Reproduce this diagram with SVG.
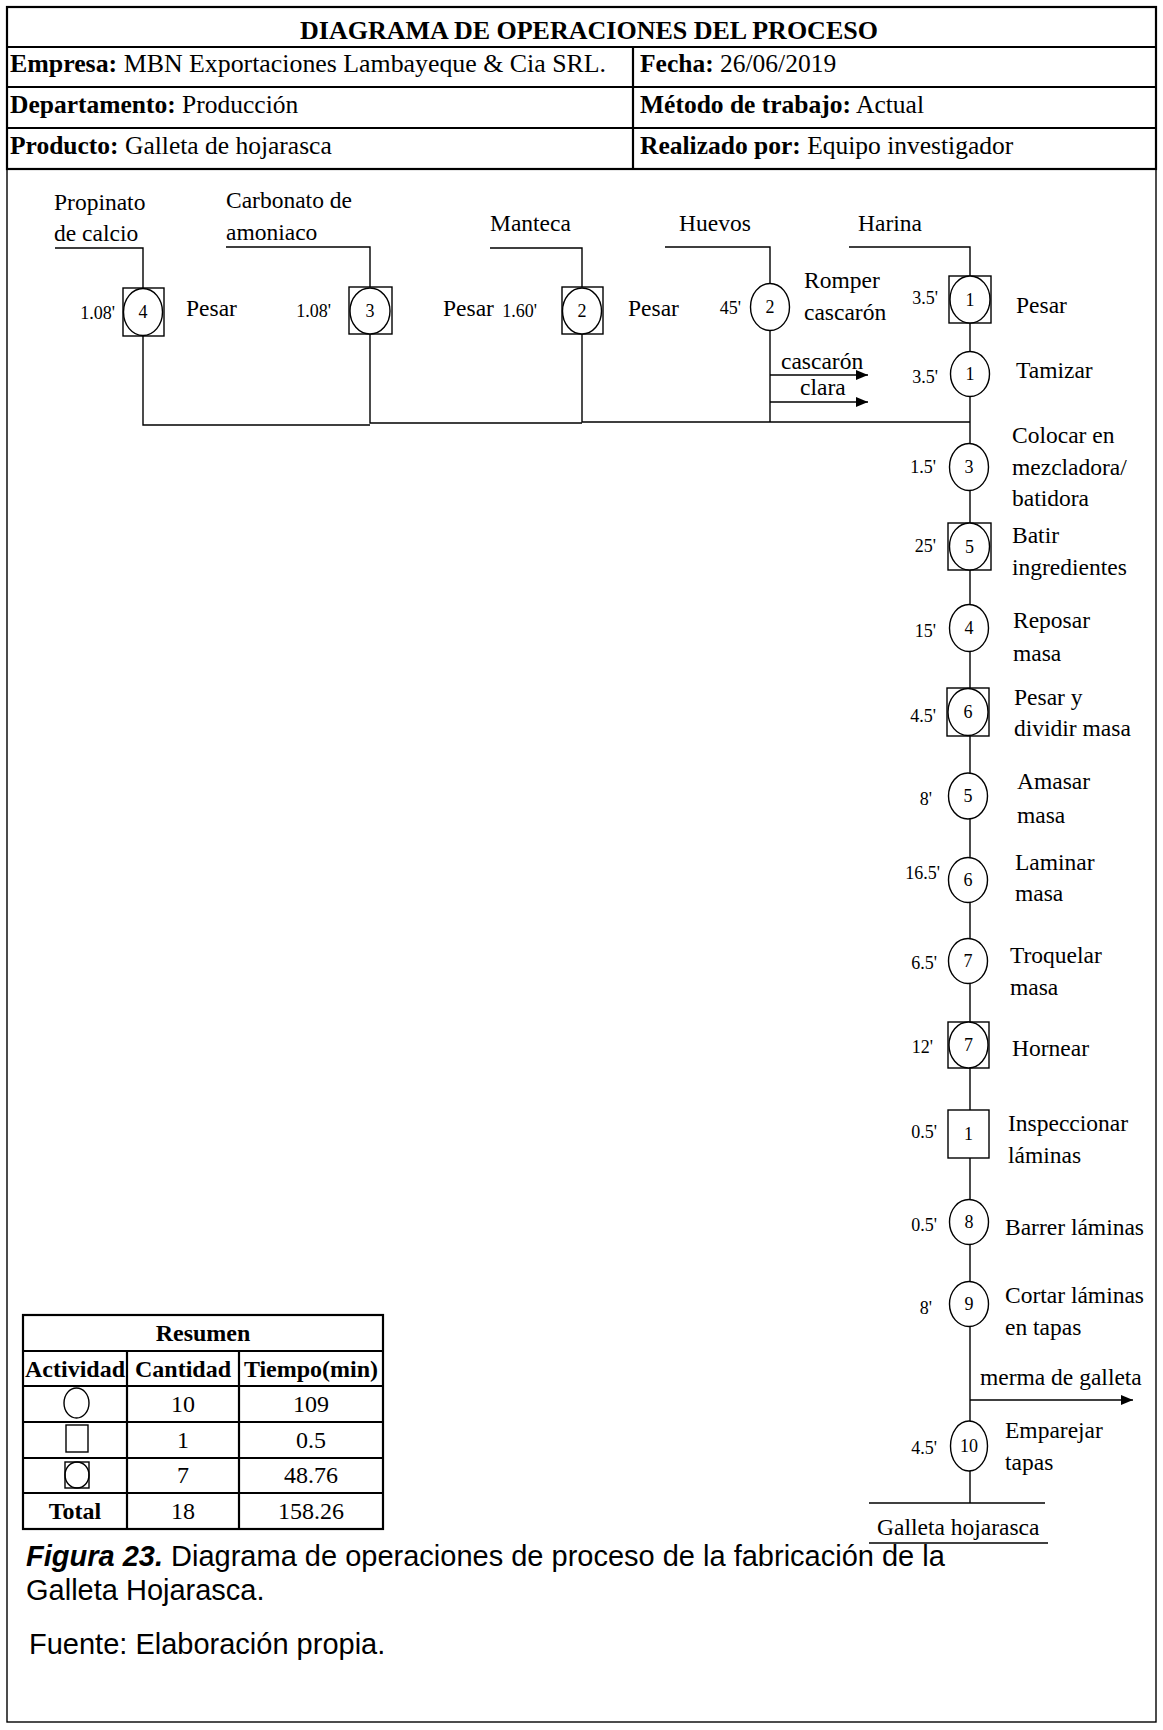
<svg xmlns="http://www.w3.org/2000/svg" width="1163" height="1730" viewBox="0 0 1163 1730">
<style>
text{font-family:"Liberation Serif","Times New Roman",serif;fill:#000}
.h{font-size:25.5px}
.t{font-size:26px;font-weight:bold}
.b{font-weight:bold}
.lb{font-size:23.5px}
.tm{font-size:18px}
.n{font-size:18px;text-anchor:middle}
.tb{font-size:24px}
.c{text-anchor:middle}
.e{text-anchor:end}
.cap{font-family:"Liberation Sans",Arial,sans-serif;font-size:29px}
.ln{stroke:#000;stroke-width:1.4;fill:none}
.hd{stroke:#000;stroke-width:2.2;fill:none}
.sh{stroke:#000;stroke-width:1.4;fill:#fff}
</style>
<defs>
<marker id="ar" markerWidth="12" markerHeight="10" refX="12" refY="5" orient="auto" markerUnits="userSpaceOnUse">
<path d="M0,0 L12,5 L0,10 Z" fill="#000"/>
</marker>
</defs>
<rect x="0" y="0" width="1163" height="1730" fill="#fff"/>
<!-- frame -->
<rect x="7" y="7" width="1149" height="1715" class="ln"/>
<!-- header -->
<g id="header">
<rect x="7" y="7" width="1149" height="162" class="hd"/>
<line x1="7" y1="47" x2="1156" y2="47" class="hd"/>
<line x1="7" y1="87" x2="1156" y2="87" class="hd"/>
<line x1="7" y1="128" x2="1156" y2="128" class="hd"/>
<line x1="633" y1="47" x2="633" y2="169" class="hd"/>
<text x="589" y="39" class="t c">DIAGRAMA DE OPERACIONES DEL PROCESO</text>
<text x="10" y="72" class="h" textLength="596" lengthAdjust="spacingAndGlyphs"><tspan class="b">Empresa:</tspan> MBN Exportaciones Lambayeque &amp; Cia SRL.</text>
<text x="640" y="72" class="h"><tspan class="b">Fecha:</tspan> 26/06/2019</text>
<text x="10" y="113" class="h"><tspan class="b">Departamento:</tspan> Producción</text>
<text x="640" y="113" class="h"><tspan class="b">Método de trabajo:</tspan> Actual</text>
<text x="10" y="154" class="h"><tspan class="b">Producto:</tspan> Galleta de hojarasca</text>
<text x="640" y="154" class="h"><tspan class="b">Realizado por:</tspan> Equipo investigador</text>
</g>
<!-- connectors -->
<g id="connectors">
<polyline points="55,248 143,248 143,288" class="ln"/>
<polyline points="143,336 143,425 370,425" class="ln"/>
<polyline points="226,247 370,247 370,287" class="ln"/>
<polyline points="370,334 370,423 582,423" class="ln"/>
<polyline points="490,248 582,248 582,287" class="ln"/>
<polyline points="582,334 582,422 970,422" class="ln"/>
<polyline points="665,247 770,247 770,284" class="ln"/>
<line x1="770" y1="331" x2="770" y2="422" class="ln"/>
<line x1="770" y1="375" x2="868" y2="375" class="ln" marker-end="url(#ar)"/>
<line x1="770" y1="402" x2="868" y2="402" class="ln" marker-end="url(#ar)"/>
<polyline points="849,247 970,247 970,276" class="ln"/>
<line x1="970" y1="276" x2="970" y2="1503" class="ln"/>
<line x1="970" y1="1400" x2="1133" y2="1400" class="ln" marker-end="url(#ar)"/>
<line x1="869" y1="1503" x2="1045" y2="1503" class="ln"/>
<line x1="869" y1="1543" x2="1048" y2="1543" class="ln"/>
</g>
<!-- inputs -->
<g id="in-propinato"><text x="54" y="210" class="lb">Propinato</text><text x="54" y="241" class="lb">de calcio</text></g>
<g id="in-carbonato"><text x="226" y="208" class="lb">Carbonato de</text><text x="226" y="240" class="lb">amoniaco</text></g>
<g id="in-manteca"><text x="490" y="231" class="lb">Manteca</text></g>
<g id="in-huevos"><text x="679" y="231" class="lb">Huevos</text></g>
<g id="in-harina"><text x="858" y="231" class="lb">Harina</text></g>
<!-- left branch nodes -->
<g id="c4"><rect x="123" y="288" width="41" height="48" class="sh"/><ellipse cx="143" cy="312" rx="19.5" ry="23.5" class="sh"/><text x="143" y="318" class="n">4</text><text x="115" y="319" class="tm e">1.08'</text><text x="186" y="316" class="lb">Pesar</text></g>
<g id="c3"><rect x="349" y="287" width="43" height="47" class="sh"/><ellipse cx="370" cy="311" rx="20" ry="23" class="sh"/><text x="370" y="317" class="n">3</text><text x="331" y="317" class="tm e">1.08'</text><text x="443" y="316" class="lb">Pesar</text></g>
<g id="c2"><rect x="562" y="287" width="41" height="47" class="sh"/><ellipse cx="582" cy="311" rx="19.5" ry="23" class="sh"/><text x="582" y="317" class="n">2</text><text x="537" y="317" class="tm e">1.60'</text><text x="628" y="316" class="lb">Pesar</text></g>
<g id="o2"><ellipse cx="770" cy="307" rx="19.5" ry="23.5" class="sh"/><text x="770" y="313" class="n">2</text><text x="741" y="314" class="tm e">45'</text><text x="804" y="288" class="lb">Romper</text><text x="804" y="320" class="lb">cascarón</text></g>
<g id="lbl-out1"><text x="781" y="369" class="lb">cascarón</text><text x="800" y="395" class="lb">clara</text></g>
<!-- main column -->
<g id="c1"><rect x="949" y="276" width="42" height="47" class="sh"/><ellipse cx="970" cy="299.5" rx="20" ry="23.5" class="sh"/><text x="970" y="306" class="n">1</text><text x="938" y="304" class="tm e">3.5'</text><text x="1016" y="313" class="lb">Pesar</text></g>
<g id="o1"><ellipse cx="970" cy="374" rx="19.5" ry="22.5" class="sh"/><text x="970" y="380" class="n">1</text><text x="938" y="383" class="tm e">3.5'</text><text x="1016" y="378" class="lb">Tamizar</text></g>
<g id="o3"><ellipse cx="969" cy="467" rx="19.5" ry="23.5" class="sh"/><text x="969" y="473" class="n">3</text><text x="936" y="473" class="tm e">1.5'</text><text x="1012" y="443" class="lb">Colocar en</text><text x="1012" y="475" class="lb">mezcladora/</text><text x="1012" y="506" class="lb">batidora</text></g>
<g id="c5"><rect x="948" y="523" width="43" height="47" class="sh"/><ellipse cx="969.5" cy="546.5" rx="20" ry="23.5" class="sh"/><text x="969.5" y="553" class="n">5</text><text x="936" y="552" class="tm e">25'</text><text x="1012" y="543" class="lb">Batir</text><text x="1012" y="575" class="lb">ingredientes</text></g>
<g id="o4"><ellipse cx="969" cy="628" rx="19.5" ry="23.5" class="sh"/><text x="969" y="634" class="n">4</text><text x="936" y="637" class="tm e">15'</text><text x="1013" y="628" class="lb">Reposar</text><text x="1013" y="661" class="lb">masa</text></g>
<g id="c6"><rect x="947" y="688" width="42" height="48" class="sh"/><ellipse cx="968" cy="712" rx="20" ry="23.5" class="sh"/><text x="968" y="718" class="n">6</text><text x="936" y="722" class="tm e">4.5'</text><text x="1014" y="705" class="lb">Pesar y</text><text x="1014" y="736" class="lb">dividir masa</text></g>
<g id="o5"><ellipse cx="968" cy="796" rx="19.5" ry="23" class="sh"/><text x="968" y="802" class="n">5</text><text x="932" y="805" class="tm e">8'</text><text x="1017" y="789" class="lb">Amasar</text><text x="1017" y="823" class="lb">masa</text></g>
<g id="o6"><ellipse cx="968" cy="880" rx="19.5" ry="22.5" class="sh"/><text x="968" y="886" class="n">6</text><text x="940" y="879" class="tm e">16.5'</text><text x="1015" y="870" class="lb">Laminar</text><text x="1015" y="901" class="lb">masa</text></g>
<g id="o7"><ellipse cx="968" cy="961" rx="19.5" ry="22.5" class="sh"/><text x="968" y="967" class="n">7</text><text x="937" y="969" class="tm e">6.5'</text><text x="1010" y="963" class="lb">Troquelar</text><text x="1010" y="995" class="lb">masa</text></g>
<g id="c7"><rect x="948" y="1022" width="41" height="46" class="sh"/><ellipse cx="968.5" cy="1045" rx="19.5" ry="23" class="sh"/><text x="968.5" y="1051" class="n">7</text><text x="933" y="1053" class="tm e">12'</text><text x="1012" y="1056" class="lb">Hornear</text></g>
<g id="i1"><rect x="948" y="1110" width="41" height="48" class="sh"/><text x="968.5" y="1140" class="n">1</text><text x="937" y="1138" class="tm e">0.5'</text><text x="1008" y="1131" class="lb">Inspeccionar</text><text x="1008" y="1163" class="lb">láminas</text></g>
<g id="o8"><ellipse cx="969" cy="1222" rx="19.5" ry="22.5" class="sh"/><text x="969" y="1228" class="n">8</text><text x="937" y="1231" class="tm e">0.5'</text><text x="1005" y="1235" class="lb">Barrer láminas</text></g>
<g id="o9"><ellipse cx="969" cy="1304" rx="19.5" ry="22.5" class="sh"/><text x="969" y="1310" class="n">9</text><text x="932" y="1314" class="tm e">8'</text><text x="1005" y="1303" class="lb">Cortar láminas</text><text x="1005" y="1335" class="lb">en tapas</text></g>
<g id="lbl-merma"><text x="980" y="1385" class="lb">merma de galleta</text></g>
<g id="o10"><ellipse cx="969" cy="1446" rx="18.5" ry="25" class="sh"/><text x="969" y="1452" class="n">10</text><text x="937" y="1454" class="tm e">4.5'</text><text x="1005" y="1438" class="lb">Emparejar</text><text x="1005" y="1470" class="lb">tapas</text></g>
<g id="end"><text x="877" y="1535" class="lb">Galleta  hojarasca</text></g>
<!-- summary table -->
<g id="resumen">
<rect x="23" y="1315" width="360" height="214" class="hd"/>
<line x1="23" y1="1351" x2="383" y2="1351" class="hd"/>
<line x1="23" y1="1386" x2="383" y2="1386" class="hd"/>
<line x1="23" y1="1422" x2="383" y2="1422" class="hd"/>
<line x1="23" y1="1458" x2="383" y2="1458" class="hd"/>
<line x1="23" y1="1493" x2="383" y2="1493" class="hd"/>
<line x1="127" y1="1351" x2="127" y2="1529" class="hd"/>
<line x1="239" y1="1351" x2="239" y2="1529" class="hd"/>
<text x="203" y="1341" class="tb b c">Resumen</text>
<text x="75" y="1377" class="tb b c">Actividad</text>
<text x="183" y="1377" class="tb b c">Cantidad</text>
<text x="311" y="1377" class="tb b c">Tiempo(min)</text>
<ellipse cx="76.5" cy="1403" rx="12.5" ry="15" class="ln"/>
<text x="183" y="1412" class="tb c">10</text><text x="311" y="1412" class="tb c">109</text>
<rect x="66" y="1425" width="22" height="27" class="ln"/>
<text x="183" y="1448" class="tb c">1</text><text x="311" y="1448" class="tb c">0.5</text>
<rect x="65" y="1462" width="24" height="26" class="ln"/><ellipse cx="77" cy="1475" rx="12" ry="13" class="ln"/>
<text x="183" y="1483" class="tb c">7</text><text x="311" y="1483" class="tb c">48.76</text>
<text x="75" y="1519" class="tb b c">Total</text>
<text x="183" y="1519" class="tb c">18</text><text x="311" y="1519" class="tb c">158.26</text>
</g>
<!-- caption -->
<g id="caption">
<text x="26" y="1566" class="cap"><tspan font-weight="bold" font-style="italic">Figura 23.</tspan> Diagrama de operaciones de proceso de la fabricación de la</text>
<text x="26" y="1600" class="cap">Galleta Hojarasca.</text>
<text x="29" y="1654" class="cap">Fuente: Elaboración propia.</text>
</g>
</svg>
